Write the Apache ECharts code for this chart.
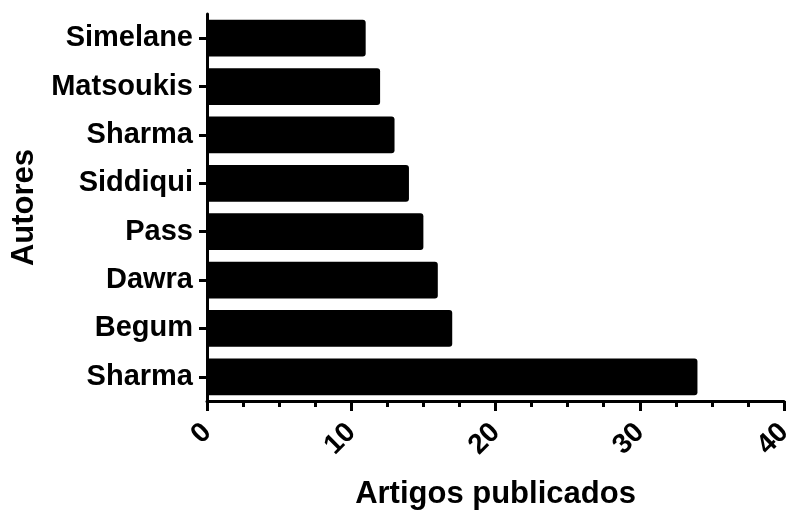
<!DOCTYPE html>
<html><head><meta charset="utf-8">
<script src="https://cdn.jsdelivr.net/npm/echarts@6/dist/echarts.min.js"></script>
<style>html,body{margin:0;padding:0;background:#fff}#c{width:787px;height:512px}</style>
</head><body><div id="c"></div>
<script>
const authors = ['Sharma','Begum','Dawra','Pass','Siddiqui','Sharma ','Matsoukis','Simelane'];
const articles = [34,17,16,15,14,13,12,11];
const xTicks = [0,10,20,30,40];
const F = 'Liberation Sans, Arial, sans-serif';
const chart = echarts.init(document.getElementById('c'));
chart.setOption({
  animation:false,
  grid:{left:207,right:3,top:14,bottom:111,containLabel:false,outerBoundsMode:'none'},
  xAxis:{type:'value',min:xTicks[0],max:xTicks[xTicks.length-1],interval:10,
    name:'Artigos publicados',nameLocation:'middle',nameGap:78,
    nameTextStyle:{fontFamily:F,fontWeight:'bold',fontSize:31,color:'#000'},
    axisLine:{show:true,lineStyle:{color:'#000',width:3}},
    axisTick:{show:true,length:10,lineStyle:{color:'#000',width:3}},
    minorTick:{show:true,splitNumber:4,length:6,lineStyle:{color:'#000',width:3}},
    splitLine:{show:false},
    axisLabel:{rotate:45,margin:27,fontFamily:F,fontWeight:'bold',fontSize:28,color:'#000'}},
  yAxis:{type:'category',data:authors,
    name:'Autores',nameLocation:'middle',nameGap:164,
    nameTextStyle:{fontFamily:F,fontWeight:'bold',fontSize:31,color:'#000'},
    axisLine:{show:true,lineStyle:{color:'#000',width:3}},
    axisTick:{show:true,alignWithLabel:true,length:8,lineStyle:{color:'#000',width:3}},
    axisLabel:{margin:14,fontFamily:F,fontWeight:'bold',fontSize:29,color:'#000',
      formatter:v=>v.trim()}},
  series:[{type:'bar',data:articles,barWidth:'76%',
    itemStyle:{color:'#000',borderRadius:[0,3,3,0]}}]
});
</script></body></html>
